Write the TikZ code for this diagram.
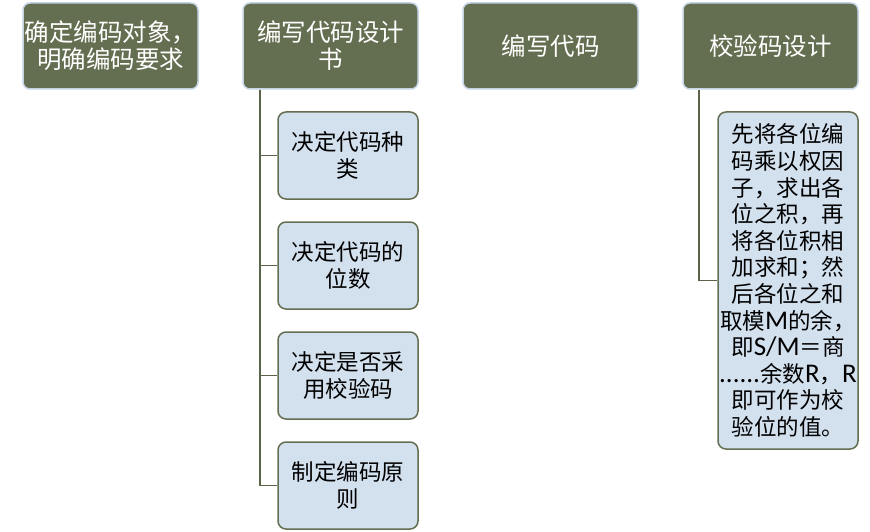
\documentclass[tikz,border=0pt]{standalone}
\usepackage{fontspec}
\setmainfont{Noto Sans CJK SC}
\newfontfamily\latfont[Scale=1.2]{Carlito}
\definecolor{olivebox}{HTML}{646E50}
\definecolor{olivebord}{HTML}{646E50}
\definecolor{topbord}{HTML}{C4D4E4}
\definecolor{childfill}{HTML}{D3E0EE}
\definecolor{connc}{HTML}{5A6448}
\tikzset{
  topbox/.style={draw=topbord, fill=olivebox, rounded corners=7pt, line width=1.5pt,
    minimum width=175pt, minimum height=86pt, inner sep=0pt, text=white, align=center,
    font=\fontsize{24.5}{27}\selectfont},
  childbox/.style={draw=olivebord, fill=childfill, rounded corners=8pt, line width=1.5pt,
    minimum width=140pt, minimum height=87pt, inner sep=0pt, text=black, align=center,
    font=\fontsize{22.5}{27}\selectfont},
  conn/.style={draw=connc, line width=1.8pt}
}
\begin{document}
\begin{tikzpicture}[x=1pt,y=-1pt]
\useasboundingbox (0,0) rectangle (870,532);
\node[topbox] (b1) at (110.5,46) {确定编码对象，\\明确编码要求};
\node[topbox] (b2) at (330.5,46) {编写代码设计\\书};
\node[topbox] (b3) at (550.5,46) {编写代码};
\node[topbox] (b4) at (770.5,46) {校验码设计};
\node[childbox] (c1) at (348,155.5) {决定代码种\\类};
\node[childbox] (c2) at (348,265.5) {决定代码的\\位数};
\node[childbox] (c3) at (348,375.5) {决定是否采\\用校验码};
\node[childbox] (c4) at (348,485.5) {制定编码原\\则};
\node[childbox, minimum height=337pt, font=\fontsize{22.5}{26.6}\selectfont] (r) at (788,280.5)
  {先将各位编\\码乘以权因\\子，求出各\\位之积，再\\将各位积相\\加求和；然\\后各位之和\\取模{\latfont M}的余，\\即{\latfont S/M}＝商\\{\latfont ......}余数{\latfont R}，{\latfont R}\\即可作为校\\验位的值。};
\draw[conn] ([xshift=18pt]b2.south west) |- (c1.west);
\draw[conn] ([xshift=18pt]b2.south west) |- (c2.west);
\draw[conn] ([xshift=18pt]b2.south west) |- (c3.west);
\draw[conn] ([xshift=18pt]b2.south west) |- (c4.west);
\draw[conn] ([xshift=17pt]b4.south west) |- (r.west);
\end{tikzpicture}
\end{document}
